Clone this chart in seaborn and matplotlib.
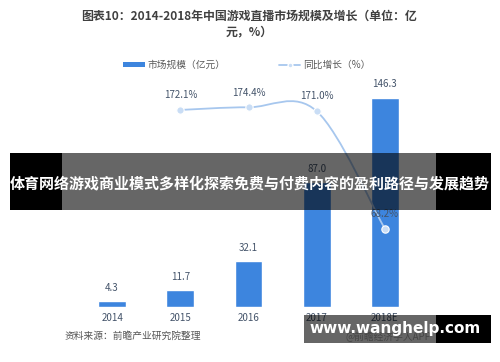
import matplotlib
matplotlib.use("Agg")
import matplotlib.pyplot as plt
import seaborn as sns
import numpy as np
import pandas as pd
from matplotlib.patches import Rectangle, Patch, PathPatch
from matplotlib.lines import Line2D
from matplotlib.path import Path

years = ["2014", "2015", "2016", "2017", "2018E"]
market = [4.3, 11.7, 32.1, 87.0, 146.3]
growth_years = ["2015", "2016", "2017", "2018E"]
growth = [172.1, 174.4, 171.0, 68.2]
title_text = "图表10：2014-2018年中国游戏直播市场规模及增长（单位：亿\n元，%）"
legend_labels = ["市场规模（亿元）", "同比增长（%）"]
banner_text = "体育网络游戏商业模式多样化探索免费与付费内容的盈利路径与发展趋势"
source_text = "资料来源：前瞻产业研究院整理"
site_text = "www.wanghelp.com"
app_text = "@前瞻经济学人APP"

sns.set_theme(style="white")
plt.rcParams["font.family"] = ["Noto Sans CJK SC", "DejaVu Sans"]

BAR = "#3D85DE"
LINE = "#A7C7EE"
LBL = "#44546A"

W, H = 500, 362
fig = plt.figure(figsize=(W / 100, H / 100), dpi=100)
fig.patch.set_facecolor("white")

ax = fig.add_axes([78 / W, 1 - 307 / H, 341 / W, 229 / H])
df = pd.DataFrame({"year": years, "market": market})
sns.barplot(data=df, x="year", y="market", color=BAR, width=0.41, ax=ax,
            saturation=1)
ax.set_ylim(0, 160)
ax.set_xlim(-0.5, 4.5)
for s in ax.spines.values():
    s.set_visible(False)
ax.set_yticks([])
ax.set_xlabel("")
ax.set_ylabel("")
ax.tick_params(axis="x", length=0, pad=4, labelsize=7, labelcolor=LBL)
for i, v in enumerate(market):
    ax.annotate(f"{v:.1f}", (i, v), xytext=(0, 6), textcoords="offset points",
                ha="center", va="bottom", fontsize=7, color=LBL)

ax2 = ax.twinx()
ax2.set_ylim(0, 200)
ax2.set_yticks([])
for s in ax2.spines.values():
    s.set_visible(False)
gx = [years.index(y) for y in growth_years]
pts = np.column_stack([gx, growth]).astype(float)
# smooth curve (uniform Catmull-Rom as Bezier through the data points)
ext = np.vstack([pts[0], pts, pts[-1]])
verts = [tuple(pts[0])]
codes = [Path.MOVETO]
for k in range(1, len(ext) - 2):
    p0, p1, p2, p3 = ext[k - 1], ext[k], ext[k + 1], ext[k + 2]
    c1 = p1 + (p2 - p0) / 6
    c2 = p2 - (p3 - p1) / 6
    verts += [tuple(c1), tuple(c2), tuple(p2)]
    codes += [Path.CURVE4] * 3
ax2.add_patch(PathPatch(Path(verts, codes), facecolor="none", edgecolor=LINE,
                        lw=1.3, zorder=3))
gdf = pd.DataFrame({"x": gx, "g": growth})
sns.scatterplot(data=gdf, x="x", y="g", ax=ax2, color="#C9DDF5", s=28,
                edgecolor="white", linewidth=0.8, zorder=4, legend=False)
ax2.set_xlabel("")
ax2.set_ylabel("")
ax.set_xlim(-0.5, 4.5)
for x, v in zip(gx, growth):
    ax2.annotate(f"{v:.1f}%", (x, v), xytext=(0, 7), textcoords="offset points",
                 ha="center", va="bottom", fontsize=7, color=LBL, zorder=5)

fig.text(0.498, 1 - 24 / H, title_text, ha="center", va="center", fontsize=8.6,
         fontweight="bold", color="#404040", linespacing=1.3)

handles = [Patch(facecolor=BAR, edgecolor="none"),
           Line2D([], [], color=LINE, lw=1.3, marker="o", markersize=3.5,
                  markerfacecolor="#C9DDF5", markeredgecolor="white")]
leg = fig.legend(handles, legend_labels, loc="center", ncol=2,
                 bbox_to_anchor=(0.494, 1 - 65 / H), frameon=False, fontsize=7,
                 handlelength=2.2, handleheight=0.45, columnspacing=5.5,
                 handletextpad=0.3)
for t in leg.get_texts():
    t.set_color("#595959")

fig.text(65 / W, 1 - 336 / H, source_text, ha="left", va="center", fontsize=7,
         style="italic", color="#555555")
fig.text(388 / W, 1 - 337 / H, app_text, ha="center", va="center", fontsize=7,
         color="#AAAAAA")

# overlays
def frect(x0, y0, x1, y1, color, alpha, z):
    fig.add_artist(Rectangle((x0 / W, 1 - y1 / H), (x1 - x0) / W, (y1 - y0) / H,
                             transform=fig.transFigure, facecolor=color,
                             alpha=alpha, edgecolor="none", zorder=z))

frect(62, 153, 436, 210, "black", 0.6, 20)
frect(10, 153, 62, 210, "black", 1.0, 20)
frect(436, 153, 491, 210, "black", 1.0, 20)
fig.text(250 / W, 1 - 183 / H, banner_text, ha="center", va="center",
         fontsize=10.8, fontweight="bold", color="white", zorder=21)

frect(304, 315, 436, 343, "black", 0.6, 20)
frect(436, 315, 491, 343, "black", 1.0, 20)
fig.text(395 / W, 1 - 329 / H, site_text, ha="center", va="center",
         fontsize=11, fontweight="bold", color="white", zorder=21,
         family="DejaVu Sans")

fig.savefig("out.png", dpi=100, facecolor="white")
